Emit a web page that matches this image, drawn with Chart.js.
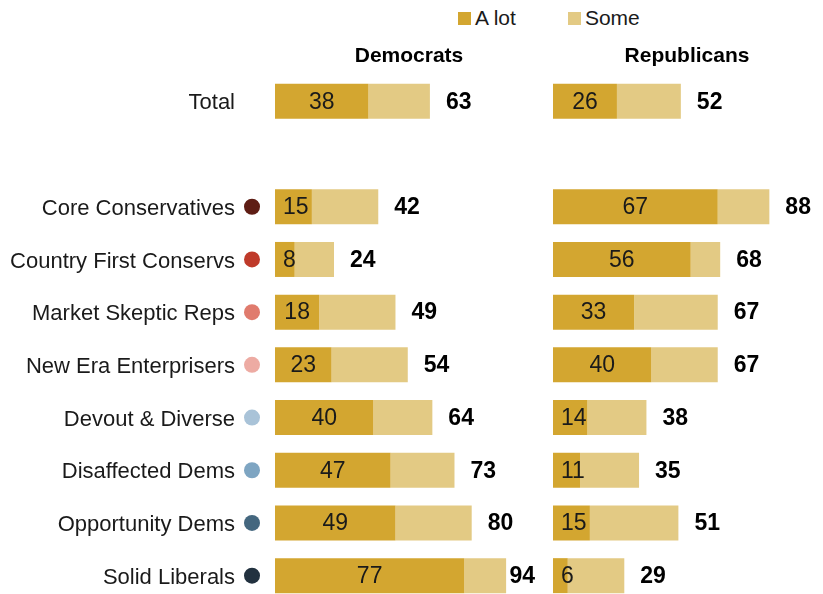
<!DOCTYPE html>
<html>
<head>
<meta charset="utf-8">
<script src="https://cdn.jsdelivr.net/npm/chart.js@4.4.1/dist/chart.umd.min.js"></script>
<style>
  html, body { margin: 0; padding: 0; background: #fff; overflow: hidden; }
  #wrap { position: relative; width: 823px; height: 594px; overflow: hidden; font-family: "Liberation Sans", Arial, sans-serif; }
  #legend { position: absolute; top: 6px; left: 458px; display: flex; gap: 52px; font-size: 21px; line-height: 24px; color: #1a1a1a; }
  #legend .item { display: flex; align-items: center; }
  #legend .sw { width: 13px; height: 13px; margin-right: 4px; }
  #demBox { position: absolute; left: 0; top: 0; width: 545px; height: 602px; }
  #repBox { position: absolute; left: 553px; top: 0; width: 270px; height: 602px; }
</style>
</head>
<body>
<div id="wrap">
  <div id="legend"></div>
  <div id="demBox"><canvas id="demChart"></canvas></div>
  <div id="repBox"><canvas id="repChart"></canvas></div>
</div>
<script>
// data
const categories = ['Total', '', 'Core Conservatives', 'Country First Conservs', 'Market Skeptic Reps',
  'New Era Enterprisers', 'Devout & Diverse', 'Disaffected Dems', 'Opportunity Dems', 'Solid Liberals'];
const dotColors = [null, null, '#5E1D14', '#BF3A2A', '#E07B6D', '#EDABA3', '#A9C3D8', '#7EA5C2', '#44677F', '#22313F'];

const seriesNames = ['A lot', 'Some'];
const seriesColors = ['#D3A630', '#E3CA84'];

const demALot  = [38, null, 15, 8, 18, 23, 40, 47, 49, 77];
const demSome  = [25, null, 27, 16, 31, 31, 24, 26, 31, 17];
const demTotal = [63, null, 42, 24, 49, 54, 64, 73, 80, 94];

const repALot  = [26, null, 67, 56, 33, 40, 14, 11, 15, 6];
const repSome  = [26, null, 21, 12, 34, 27, 24, 24, 36, 23];
const repTotal = [52, null, 88, 68, 67, 67, 38, 35, 51, 29];

const FONT = '"Liberation Sans", Arial, sans-serif';

// html legend
const legendEl = document.getElementById('legend');
seriesNames.forEach((name, i) => {
  const item = document.createElement('div');
  item.className = 'item';
  item.innerHTML = '<span class="sw" style="background:' + seriesColors[i] + '"></span>' + name;
  legendEl.appendChild(item);
});

// values inside bars, totals at bar ends, panel title
const barLabels = {
  id: 'barLabels',
  afterDatasetsDraw(chart, args, opts) {
    const ctx = chart.ctx;
    const area = chart.chartArea;
    const aLotMeta = chart.getDatasetMeta(0);
    const someMeta = chart.getDatasetMeta(1);
    ctx.save();
    ctx.textBaseline = 'middle';
    aLotMeta.data.forEach((bar, i) => {
      const v = chart.data.datasets[0].data[i];
      if (v == null) return;
      ctx.font = '23px ' + FONT;
      ctx.fillStyle = '#1a1a1a';
      const txt = String(v);
      const tw = ctx.measureText(txt).width;
      const cx = Math.max((bar.base + bar.x) / 2, bar.base + 8 + tw / 2);
      ctx.textAlign = 'center';
      ctx.fillText(txt, cx, bar.y + 1);

      const tot = String(opts.totals[i]);
      ctx.font = 'bold 23px ' + FONT;
      ctx.fillStyle = '#000';
      const tw2 = ctx.measureText(tot).width;
      const x = Math.min(someMeta.data[i].x + 16, area.right - tw2 - 8);
      ctx.textAlign = 'left';
      ctx.fillText(tot, x, bar.y + 1);
    });
    ctx.font = 'bold 21px ' + FONT;
    ctx.fillStyle = '#000';
    ctx.textAlign = 'center';
    ctx.fillText(opts.title, (area.left + area.right) / 2, 56);
    ctx.restore();
  }
};

// coloured dots beside the category names
const groupDots = {
  id: 'groupDots',
  afterDraw(chart) {
    if (!chart.options.plugins.groupDots) return;
    const ctx = chart.ctx;
    const yScale = chart.scales.y;
    ctx.save();
    dotColors.forEach((c, i) => {
      if (!c) return;
      ctx.beginPath();
      ctx.arc(chart.chartArea.left - 23, yScale.getPixelForValue(i), 8, 0, Math.PI * 2);
      ctx.fillStyle = c;
      ctx.fill();
    });
    ctx.restore();
  }
};

function makeChart(id, aLot, some, totals, title, showLabels) {
  return new Chart(document.getElementById(id), {
    type: 'bar',
    data: {
      labels: categories,
      datasets: [
        { label: seriesNames[0], data: aLot, backgroundColor: seriesColors[0] },
        { label: seriesNames[1], data: some, backgroundColor: seriesColors[1] }
      ]
    },
    options: {
      indexAxis: 'y',
      responsive: true,
      maintainAspectRatio: false,
      animation: false,
      events: [],
      barPercentage: 0.664,
      categoryPercentage: 1,
      layout: { padding: { top: 75, bottom: 0, left: 0, right: 2 } },
      plugins: {
        legend: { display: false },
        tooltip: { enabled: false },
        barLabels: { totals: totals, title: title },
        groupDots: showLabels
      },
      scales: {
        x: {
          stacked: true,
          min: 0,
          max: 109,
          display: false
        },
        y: {
          stacked: true,
          display: showLabels,
          grid: { display: false, drawTicks: false },
          border: { display: false },
          ticks: {
            padding: 40,
            labelOffset: 2,
            color: '#1a1a1a',
            font: { family: FONT, size: 22 }
          },
          afterFit: (scale) => {
            scale.width = showLabels ? 275 : 0;
            // tick padding should not eat into the band height
            scale.paddingTop = 0;
            scale.paddingBottom = 0;
          }
        }
      }
    },
    plugins: [barLabels, groupDots]
  });
}

makeChart('demChart', demALot, demSome, demTotal, 'Democrats', true);
makeChart('repChart', repALot, repSome, repTotal, 'Republicans', false);
</script>
</body>
</html>
